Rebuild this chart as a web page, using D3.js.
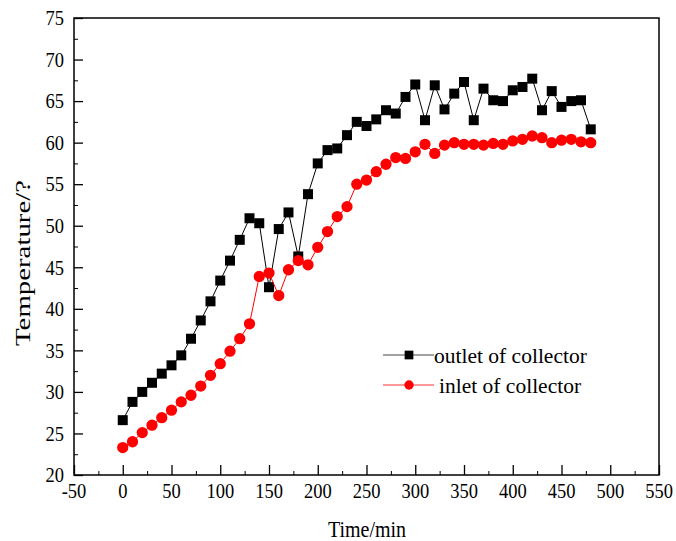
<!DOCTYPE html>
<html>
<head>
<meta charset="utf-8">
<script src="https://cdn.jsdelivr.net/npm/d3@7"></script>
<style>
body { margin: 0; background: #fff; }
</style>
</head>
<body>
<svg id="chart" width="676" height="541"></svg>
<script>
// time in minutes
var times = d3.range(0, 490, 10);
var outlet = [26.6, 28.8, 30.0, 31.1, 32.2, 33.2, 34.4, 36.4, 38.6, 40.9,
	43.4, 45.8, 48.3, 50.9, 50.3, 42.6, 49.6, 51.6, 46.3, 53.8,
	57.5, 59.1, 59.3, 60.9, 62.5, 62.0, 62.8, 63.9, 63.5, 65.5,
	67.0, 62.7, 66.9, 64.0, 65.9, 67.3, 62.7, 66.5, 65.1, 65.0,
	66.3, 66.7, 67.7, 63.9, 66.2, 64.3, 65.0, 65.1, 61.6];
var inlet = [23.3, 24.0, 25.1, 26.0, 26.9, 27.8, 28.8, 29.6, 30.7, 32.0,
	33.4, 34.9, 36.4, 38.2, 43.9, 44.3, 41.6, 44.7, 45.8, 45.3,
	47.4, 49.3, 51.1, 52.3, 55.0, 55.5, 56.5, 57.4, 58.2, 58.1,
	58.9, 59.8, 58.7, 59.7, 60.0, 59.8, 59.8, 59.7, 59.9, 59.8,
	60.2, 60.4, 60.8, 60.6, 60.0, 60.3, 60.4, 60.1, 60.0];
var xTicks = d3.range(-50, 551, 50);
var yTicks = d3.range(20, 76, 5);

var font = '"Liberation Serif", "Times New Roman", serif';
var stretch = 1.18; // the original picture is slightly taller than wide

var svg = d3.select('#chart');
var mLeft = 74, mRight = 659, mTop = 18, mBottom = 475;

var x = d3.scaleLinear().domain([-50, 550]).range([mLeft, mRight]);
var y = d3.scaleLinear().domain([20, 75]).range([mBottom, mTop]);

//frame
svg.append('rect')
	.attr('x', mLeft).attr('y', mTop)
	.attr('width', mRight - mLeft).attr('height', mBottom - mTop)
	.attr('fill', 'none').attr('stroke', '#000').attr('stroke-width', 1.5);

//bottom axis, ticks pointing in
var xAxis = svg.append('g').attr('transform', 'translate(0,' + mBottom + ')')
	.call(d3.axisBottom(x).tickValues(xTicks).tickSize(-10).tickFormat(''));
xAxis.select('.domain').remove();
xAxis.selectAll('line').attr('stroke-width', 1.3);
svg.append('g').attr('transform', 'translate(0,' + mBottom + ')')
	.call(d3.axisBottom(x).tickValues(d3.range(-25, 550, 50)).tickSize(-4).tickFormat(''))
	.select('.domain').remove();
svg.append('g').selectAll('text').data(xTicks)
	.enter().append('text')
	.attr('transform', function(d) { return 'translate(' + x(d) + ',497.5) scale(1,' + stretch + ')'; })
	.attr('text-anchor', 'middle').attr('font-family', font).attr('font-size', 18.5)
	.text(function(d) { return String(d); });

//left axis
var yAxis = svg.append('g').attr('transform', 'translate(' + mLeft + ',0)')
	.call(d3.axisLeft(y).tickValues(yTicks).tickSize(-9).tickFormat(''));
yAxis.select('.domain').remove();
yAxis.selectAll('line').attr('stroke-width', 1.3);
svg.append('g').attr('transform', 'translate(' + mLeft + ',0)')
	.call(d3.axisLeft(y).tickValues(d3.range(22.5, 75, 5)).tickSize(-4).tickFormat(''))
	.select('.domain').remove();
svg.append('g').selectAll('text').data(yTicks)
	.enter().append('text')
	.attr('transform', function(d) { return 'translate(64,' + (y(d) + 7.3) + ') scale(1,' + stretch + ')'; })
	.attr('text-anchor', 'end').attr('font-family', font).attr('font-size', 18.5)
	.text(function(d) { return String(d); });

//axis titles
svg.append('text').attr('transform', 'translate(367,537) scale(1,' + stretch + ')')
	.attr('text-anchor', 'middle').attr('font-family', font).attr('font-size', 20)
	.text('Time/min');
svg.append('text').attr('transform', 'translate(30,263) rotate(-90)')
	.attr('text-anchor', 'middle').attr('font-family', font).attr('font-size', 20)
	.attr('textLength', 166).attr('lengthAdjust', 'spacingAndGlyphs')
	.text('Temperature/?');

var line = d3.line().x(function(d) { return x(d[0]); }).y(function(d) { return y(d[1]); });

function drawSeries(values, color, shape) {
	var pts = times.map(function(t, i) { return [t, values[i]]; });
	svg.append('path').datum(pts)
		.attr('d', line).attr('fill', 'none').attr('stroke', color).attr('stroke-width', 1);
	var sym = d3.symbol().type(shape).size(shape === d3.symbolSquare ? 100 : 100);
	svg.append('g').selectAll('path').data(pts)
		.enter().append('path')
		.attr('transform', function(d) { return 'translate(' + x(d[0]) + ',' + y(d[1]) + ')'; })
		.attr('d', sym).attr('fill', color);
}
drawSeries(outlet, '#000', d3.symbolSquare);
drawSeries(inlet, '#ff0000', d3.symbolCircle);

//legend
var legend = [
	{label: 'outlet of collector', color: '#000', line: '#444', shape: d3.symbolSquare, size: 76, ly: 355, tx: 434},
	{label: 'inlet of collector', color: '#ff0000', line: '#ff3333', shape: d3.symbolCircle, size: 68, ly: 385, tx: 439}
];
legend.forEach(function(l) {
	svg.append('line').attr('x1', 383).attr('x2', 434).attr('y1', l.ly).attr('y2', l.ly)
		.attr('stroke', l.line).attr('stroke-width', 1);
	svg.append('path').attr('transform', 'translate(409,' + l.ly + ')')
		.attr('d', d3.symbol().type(l.shape).size(l.size)).attr('fill', l.color);
	svg.append('text').attr('x', l.tx).attr('y', l.ly + 7.7)
		.attr('font-family', font).attr('font-size', 21.5).text(l.label);
});
</script>
</body>
</html>
